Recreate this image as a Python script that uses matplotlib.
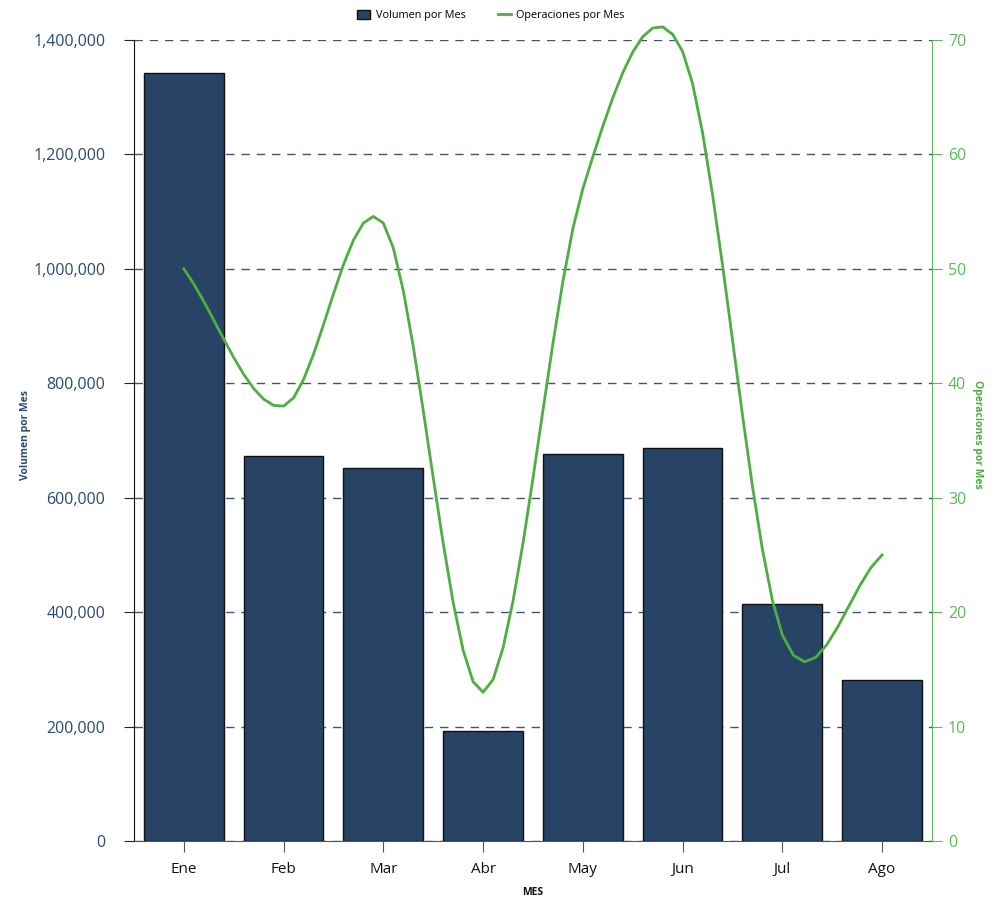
import numpy as np
import matplotlib
matplotlib.use('Agg')
import matplotlib.pyplot as plt
from matplotlib.ticker import FuncFormatter, MultipleLocator
from matplotlib.lines import Line2D
from matplotlib.patches import Patch

# data
meses = ['Ene', 'Feb', 'Mar', 'Abr', 'May', 'Jun', 'Jul', 'Ago']
volumen = [1343000, 672000, 652000, 192000, 676000, 687500, 414000, 281000]
operaciones = [50, 38, 54, 13, 57, 69, 18, 25]

BAR_COLOR = '#274466'
LINE_COLOR = '#4caf3f'
LEFT_TXT = '#2b4a70'
RIGHT_TXT = '#5cb85c'


def catmull_rom(values, steps=10):
    """ Spline through the points, like the charting lib draws it. """
    p = np.asarray(values, dtype=float)
    n = len(p)
    m = np.zeros(n)
    m[1:-1] = (p[2:] - p[:-2]) / 2
    m[0] = p[1] - p[0]
    m[-1] = p[-1] - p[-2]
    xs, ys = [], []
    for i in range(n - 1):
        t = np.linspace(0, 1, steps, endpoint=(i == n - 2))
        h00 = 2 * t**3 - 3 * t**2 + 1
        h10 = t**3 - 2 * t**2 + t
        h01 = -2 * t**3 + 3 * t**2
        h11 = t**3 - t**2
        xs.append(i + t)
        ys.append(h00 * p[i] + h10 * m[i] + h01 * p[i + 1] + h11 * m[i + 1])
    return np.concatenate(xs), np.concatenate(ys)


plt.rcParams['font.family'] = ['Open Sans', 'DejaVu Sans']

fig = plt.figure(figsize=(10.02, 8.98), dpi=100)
ax = fig.add_axes([0.1337, 0.0635, 0.7964, 0.892])
ax2 = ax.twinx()

x = np.arange(len(meses))
ax.bar(x, volumen, width=0.8, color=BAR_COLOR, edgecolor='#111111', linewidth=1, zorder=3)

ax.set_ylim(0, 1400000)
ax.set_xlim(-0.5, len(meses) - 0.5)
ax.yaxis.set_major_locator(MultipleLocator(200000))
ax.yaxis.set_major_formatter(FuncFormatter(lambda v, _: f'{int(v):,}'))
ax.grid(axis='y', color='#3f5478', linestyle=(0, (6, 5)), linewidth=1, zorder=0)
ax.set_axisbelow(True)

ax.set_xticks(x)
ax.set_xticklabels(meses)
ax.tick_params(axis='x', length=8, color='#555555', labelsize=11, labelcolor='#111111', pad=7)
ax.tick_params(axis='y', length=7.5, color='#222222', labelsize=11.5, labelcolor=LEFT_TXT, pad=13)
ax.set_xlabel('MES', fontsize=7.5, fontweight='bold', color='#111111', labelpad=7)
ax.set_ylabel('Volumen por Mes', fontsize=7.5, fontweight='bold', color=LEFT_TXT, va='center')
ax.yaxis.set_label_coords(-0.136, 0.507)

lx, ly = catmull_rom(operaciones)
ax2.plot(lx, ly, color=LINE_COLOR, linewidth=2, zorder=4, clip_on=False)
ax2.set_ylim(0, 70)
ax2.yaxis.set_major_locator(MultipleLocator(10))
ax2.tick_params(axis='y', length=7.5, color=RIGHT_TXT, labelsize=11.5, labelcolor=RIGHT_TXT, pad=4)
ax2.set_ylabel('Operaciones por Mes', fontsize=7.5, fontweight='bold', color=LINE_COLOR,
               rotation=-90, va='center')
ax2.yaxis.set_label_coords(1.057, 0.507)

for a in (ax, ax2):
    a.spines['top'].set_visible(False)
ax.spines['right'].set_visible(False)
ax2.spines['left'].set_visible(False)
ax2.spines['bottom'].set_visible(False)
ax.spines['left'].set_color('#111111')
ax.spines['bottom'].set_color('#555555')
ax2.spines['right'].set_color(RIGHT_TXT)

handles = [Patch(facecolor=BAR_COLOR, edgecolor='#111111', label='Volumen por Mes'),
           Line2D([], [], color=LINE_COLOR, linewidth=2, label='Operaciones por Mes')]
fig.legend(handles=handles, loc='upper center', bbox_to_anchor=(0.49, 1.0), ncol=2,
           frameon=False, fontsize=7.8, handlelength=1.2, handleheight=1.0,
           columnspacing=3.0, handletextpad=0.5)

fig.savefig('out.png', dpi=100)
